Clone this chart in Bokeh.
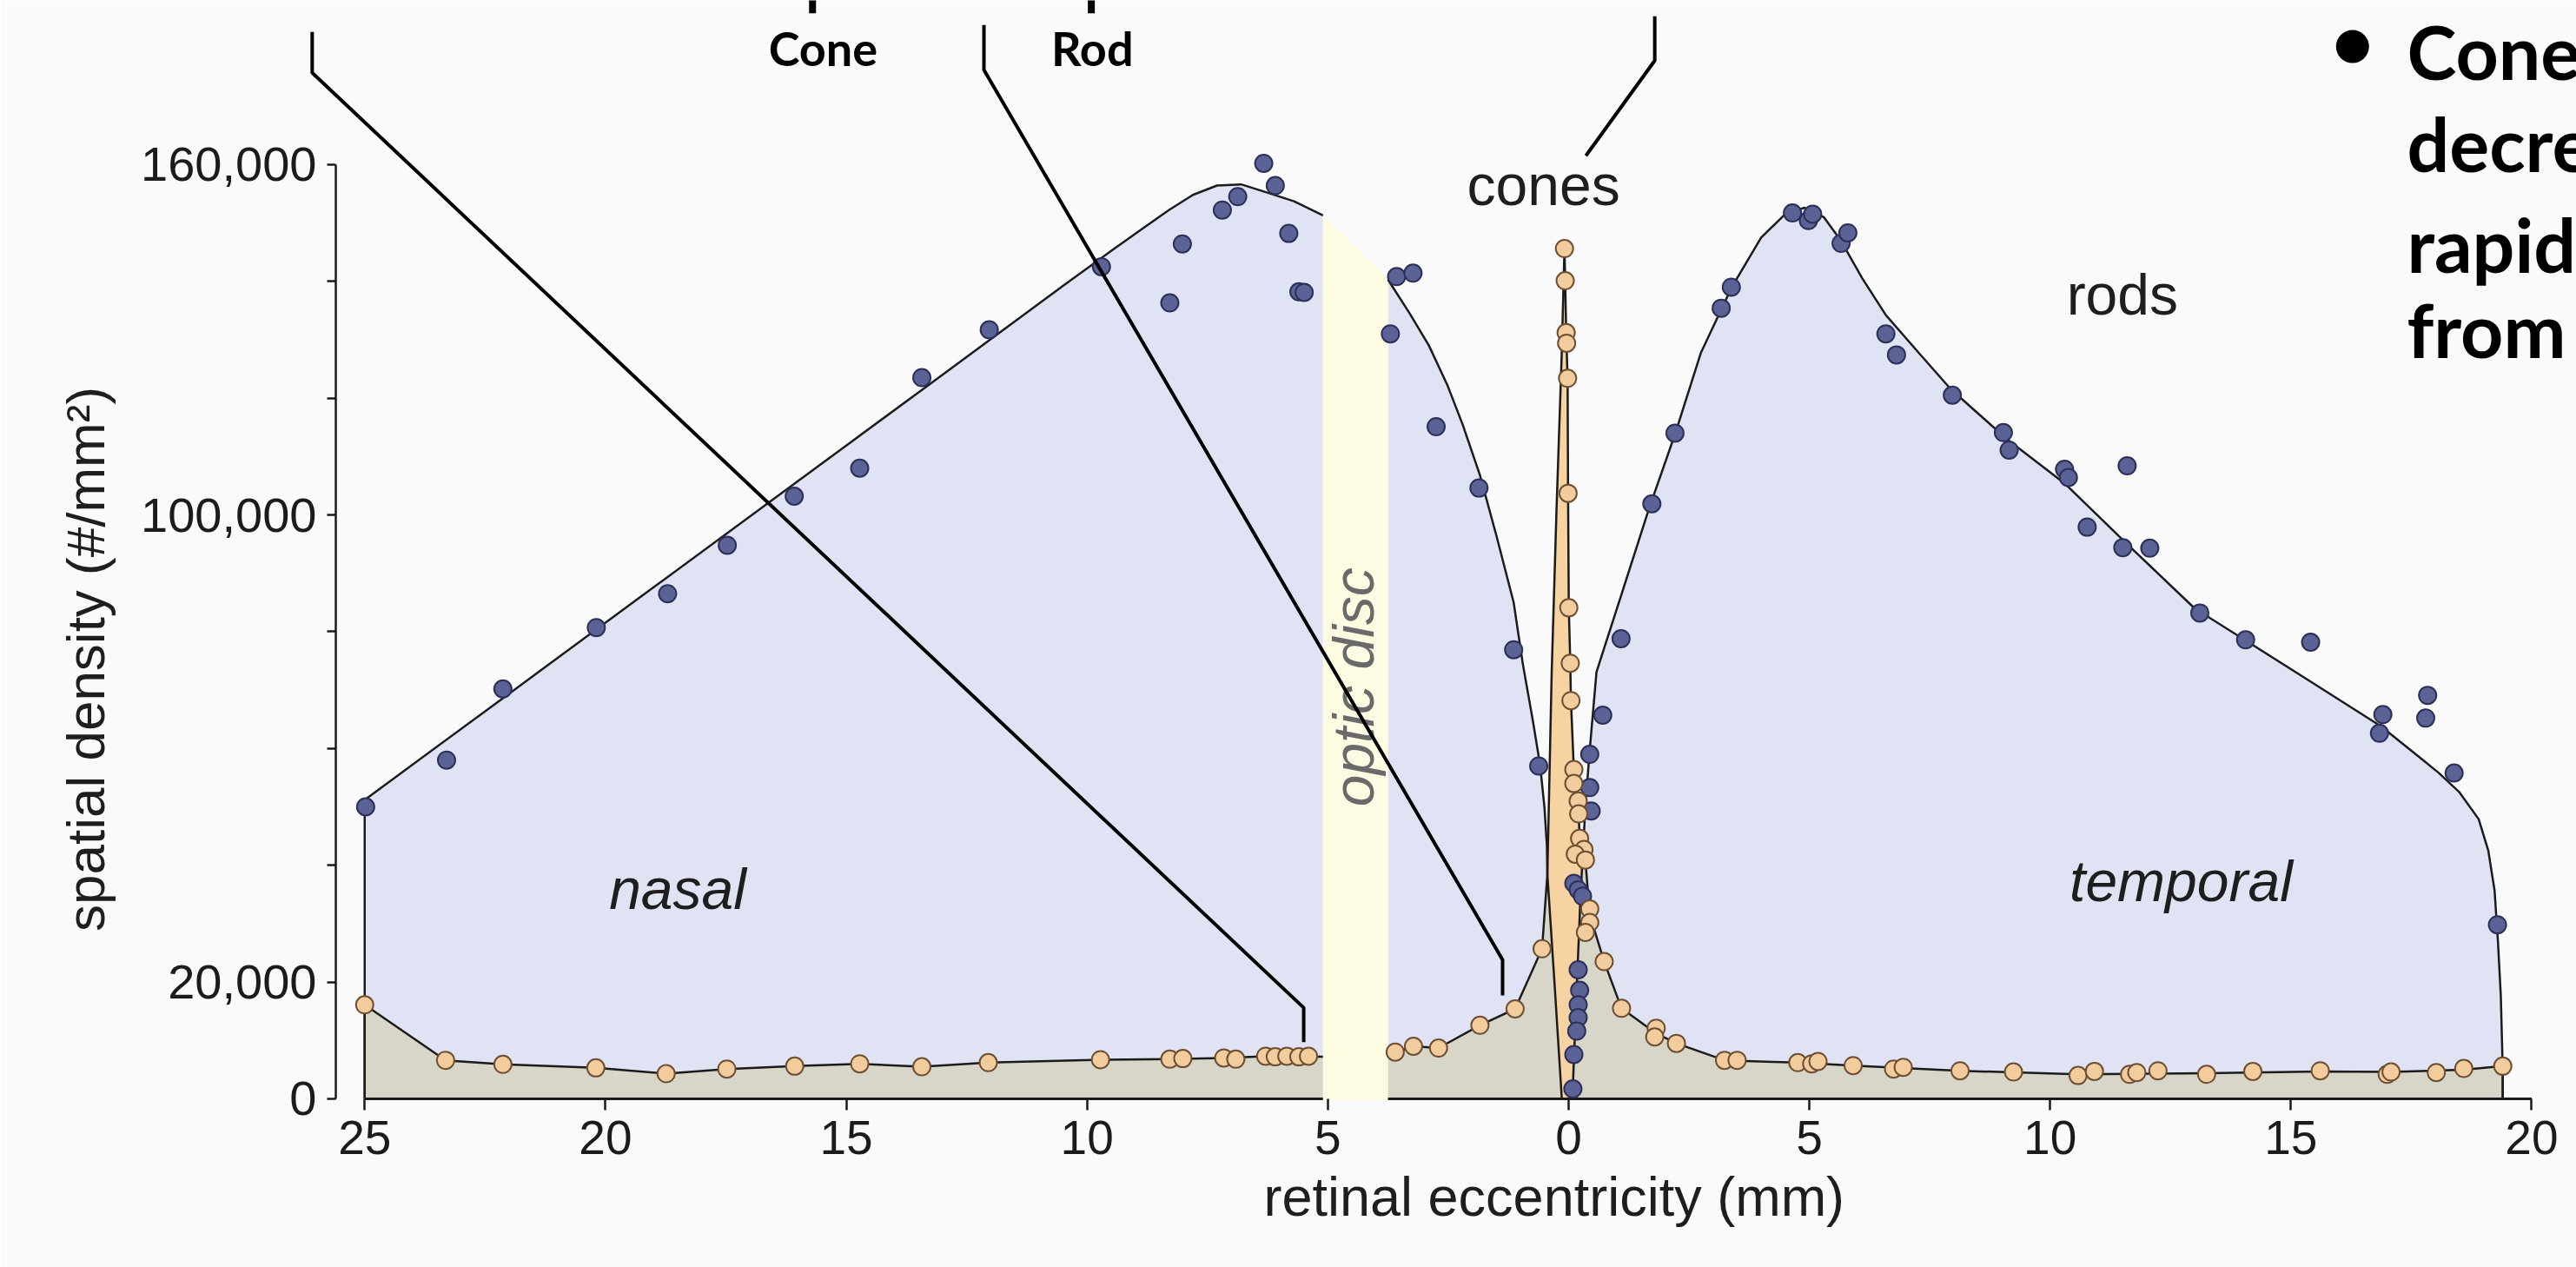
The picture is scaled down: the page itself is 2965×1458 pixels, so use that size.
import math
from bokeh.plotting import figure
from bokeh.models import FixedTicker, Range1d
from bokeh.embed import file_html
from bokeh.resources import INLINE
from bokeh.core.properties import value

# ---------------- data (x: retinal eccentricity in mm, nasal side negative;
#                         y: spatial density in thousands per mm^2) -------------
ROD_X = [-24.98, -23.30, -22.13, -20.19, -18.71, -17.47, -16.08, -14.72, -13.43, -12.03,
         -9.70, -8.28, -8.02, -7.19, -6.87, -6.33, -6.09, -5.81, -5.60, -5.49,
         -3.70, -3.57, -3.23, -2.75, -1.86, -1.14, -0.62,
         0.71, 0.44, 0.44, 0.47, 0.11, 0.20, 0.29, 0.20, 0.23, 0.20, 0.20, 0.17, 0.11, 0.09,
         1.09, 1.73, 2.21, 3.17, 3.38, 4.65, 4.98, 5.07, 5.66, 5.80, 6.59, 6.81, 7.97,
         9.03, 9.15, 10.30, 10.38, 11.60, 10.77, 11.51, 12.07, 13.11, 14.06, 15.41,
         16.91, 16.84, 17.84, 17.80, 18.39, 19.29]
ROD_Y = [50.0, 58.0, 70.2, 80.7, 86.5, 94.8, 103.2, 108.0, 123.5, 131.7,
         142.5, 136.3, 146.4, 152.2, 154.5, 160.2, 156.4, 148.2, 138.2, 138.1,
         131.0, 140.8, 141.4, 115.1, 104.6, 76.9, 57.0,
         65.7, 59.0, 53.3, 49.3, 36.9, 35.8, 34.7, 22.1, 18.6, 16.1, 13.9, 11.6, 7.6, 1.7,
         78.8, 101.9, 114.0, 135.4, 139.0, 151.7, 150.4, 151.5, 146.5, 148.3, 131.0, 127.4, 120.5,
         114.1, 111.1, 107.8, 106.4, 108.4, 97.9, 94.4, 94.3, 83.2, 78.6, 78.2,
         65.8, 62.6, 69.1, 65.2, 55.8, 29.8]

CONE_X = [-25.0, -23.32, -22.13, -20.2, -18.74, -17.48, -16.07, -14.72, -13.43, -12.05,
          -9.72, -8.28, -8.01, -7.16, -6.91, -6.29, -6.09, -5.85, -5.60, -5.40,
          -3.60, -3.22, -2.70, -1.84, -1.11, -0.55,
          -0.085, -0.07, -0.05, -0.04, -0.02, -0.01, 0.005, 0.036, 0.05, 0.11, 0.11, 0.20,
          0.21, 0.23, 0.32, 0.14, 0.35, 0.44, 0.44, 0.35,
          0.74, 1.10, 1.82, 1.79, 2.24, 3.24, 3.50, 4.76, 5.05, 5.18, 5.91, 6.75, 6.95,
          8.13, 9.24, 10.58, 10.92, 11.65, 11.80, 12.24, 13.25, 14.21, 15.61, 17.00,
          17.08, 18.02, 18.59, 19.40]
CONE_Y = [16.1, 6.6, 5.9, 5.3, 4.3, 5.1, 5.6, 6.0, 5.5, 6.2,
          6.7, 6.8, 6.9, 7.0, 6.8, 7.3, 7.2, 7.3, 7.2, 7.3,
          8.0, 9.0, 8.7, 12.6, 15.4, 25.7,
          145.6, 140.1, 131.2, 129.4, 123.4, 103.7, 84.1, 74.6, 68.2, 56.4, 54.0, 51.0,
          48.8, 44.6, 42.7, 41.9, 40.9, 32.5, 30.2, 28.5,
          23.5, 15.5, 12.1, 10.6, 9.5, 6.6, 6.6, 6.2, 6.0, 6.4, 5.7, 5.1, 5.4,
          4.8, 4.6, 4.0, 4.7, 4.2, 4.5, 4.8, 4.2, 4.7, 4.8, 4.2,
          4.6, 4.5, 5.2, 5.6]

# fitted curves as drawn in the figure
ROD_NASAL_CX = [-25.0, -25.0, -22.0, -19.0, -16.0, -13.0, -10.5, -9.5, -8.8, -8.3, -7.8,
                -7.3, -6.8, -6.3, -5.7, -5.1]
ROD_NASAL_CY = [0.0, 51.2, 69.4, 87.6, 105.8, 124.0, 139.2, 145.2, 149.3, 152.2, 154.8,
                156.4, 156.6, 155.3, 153.7, 151.3]
ROD_TEMP_CX = [-3.75, -3.3, -2.9, -2.52, -2.2, -1.84, -1.5, -1.14, -0.95, -0.74, -0.59, -0.50,
               -0.45, -0.44, -0.29, -0.14, 0.08, 0.15, 0.25, 0.35, 0.43, 0.58, 1.1, 1.66, 2.21,
               2.75, 3.39, 4.0, 4.5, 4.9, 5.3, 5.66, 6.1, 6.59, 7.3, 7.94, 9.1, 10.3, 11.6, 13.0,
               14.06, 15.4, 16.87, 18.06, 18.5, 18.9, 19.1, 19.23, 19.3, 19.36, 19.4, 19.4]
ROD_TEMP_CY = [140.3, 134.5, 129.0, 122.3, 115.5, 106.8, 96.5, 85.0, 74.5, 64.7, 57.1, 49.9,
               43.4, 38.5, 19.6, 0.0, 0.0, 15.0, 35.0, 50.0, 58.8, 73.1, 86.4, 100.8, 113.8,
               127.8, 139.0, 147.5, 151.5, 152.6, 151.0, 146.9, 140.5, 134.2, 127.5, 121.5, 113.0,
               105.4, 95.0, 84.0, 78.5, 71.5, 63.8, 55.9, 52.5, 47.9, 42.5, 35.7, 27.0, 17.6, 4.7, 0.0]
CONE_NASAL_CX = [-25.0, -25.0, -23.32, -22.13, -20.2, -18.74, -17.48, -16.07, -14.72, -13.43,
                 -12.05, -9.72, -8.28, -7.16, -6.29, -5.1]
CONE_NASAL_CY = [0.0, 16.1, 6.6, 5.9, 5.3, 4.3, 5.1, 5.6, 6.0, 5.5,
                 6.2, 6.7, 6.8, 7.0, 7.3, 7.2]
CONE_TEMP_CX = [-3.75, -3.60, -3.22, -2.70, -1.84, -1.11, -0.55, -0.44, -0.35, -0.25, -0.14,
                -0.085, -0.07, -0.05, -0.02, -0.01, 0.005, 0.036, 0.05, 0.11, 0.20, 0.23, 0.35,
                0.44, 0.74, 1.10, 1.80, 2.24, 3.24, 4.76, 5.91, 8.13, 10.58, 13.25, 15.61,
                17.08, 18.59, 19.40, 19.40]
CONE_TEMP_CY = [7.6, 8.0, 9.0, 8.7, 12.6, 15.4, 25.7, 38.5, 73.1, 100.9, 128.0,
                145.6, 140.1, 131.2, 123.4, 103.7, 84.1, 74.6, 68.2, 56.4, 51.0, 44.6, 40.9,
                31.5, 23.5, 15.5, 11.3, 9.5, 6.6, 6.2, 5.7, 4.8, 4.2, 4.4, 4.7,
                4.6, 5.0, 5.6, 0.0]
# foveal region where cones are present but rods are not
CONE_ONLY_X = [-0.14, -0.29, -0.44, -0.35, -0.25, -0.14, -0.085, -0.07, -0.05, -0.02, -0.01,
               0.005, 0.036, 0.05, 0.11, 0.20, 0.23, 0.30, 0.25, 0.15, 0.08]
CONE_ONLY_Y = [0.0, 19.6, 38.5, 73.1, 100.9, 128.0, 145.6, 140.1, 131.2, 123.4, 103.7,
               84.1, 74.6, 68.2, 56.4, 51.0, 44.6, 42.5, 35.0, 15.0, 0.0]
# optic disc (blind spot)
DISC_X = [-5.1, -3.75]
DISC_TOP = [151.3, 140.3]

X_TICKS = [-25, -20, -15, -10, -5, 0, 5, 10, 15, 20]
X_TICK_LABELS = ["25", "20", "15", "10", "5", "0", "5", "10", "15", "20"]
Y_TICKS = [0, 20, 40, 60, 80, 100, 120, 140, 160]
Y_TICK_LABELS = ["0", "20,000", "", "", "", "100,000", "", "", "160,000"]

X_TITLE = "retinal eccentricity (mm)"
Y_TITLE = "spatial density (#/mm²)"

# ---------------- styling / layout ----------------
W, H = 2965, 1458
BG = "#fafafa"
ROD_FILL = "#dfe3f4"
BOTH_FILL = "#d7d6c8"
CONE_ONLY_FILL = "#f6d3a0"
DISC_FILL = "#fdfbe1"
ROD_DOT, ROD_EDGE = "#5a6296", "#2c3058"
CONE_DOT, CONE_EDGE = "#f2cc9d", "#6e4f33"
INK = "#1b1b1b"
FONT = "Liberation Sans"
SLIDE_FONT = "Lato"

p = figure(width=W, height=H, output_backend="svg", toolbar_location=None, title=None,
           x_range=Range1d(-25.6, 20.93), y_range=Range1d(-0.3, 188.1),
           min_border_left=386, min_border_right=0, min_border_top=0, min_border_bottom=192)
p.background_fill_color = BG
p.border_fill_color = BG
p.outline_line_color = None
p.grid.visible = False

# axes
xa = p.xaxis[0]
xa.ticker = FixedTicker(ticks=X_TICKS)
xa.major_label_overrides = {t: l for t, l in zip(X_TICKS, X_TICK_LABELS)}
xa.bounds = (X_TICKS[0], X_TICKS[-1])
xa.axis_line_color = None
xa.major_tick_in = 2
xa.major_tick_out = 11
xa.major_tick_line_width = 2.5
xa.major_tick_line_color = INK
xa.minor_tick_line_color = None
xa.major_label_standoff = 12
xa.major_label_text_font = FONT
xa.major_label_text_font_size = "55px"
xa.major_label_text_color = INK

ya = p.yaxis[0]
ya.ticker = FixedTicker(ticks=Y_TICKS)
ya.major_label_overrides = {t: l for t, l in zip(Y_TICKS, Y_TICK_LABELS)}
ya.bounds = (Y_TICKS[0], Y_TICKS[-1])
ya.axis_line_color = INK
ya.axis_line_width = 2.5
ya.major_tick_in = 0
ya.major_tick_out = 10
ya.major_tick_line_width = 2.5
ya.major_tick_line_color = INK
ya.minor_tick_line_color = None
ya.major_label_standoff = 12
ya.major_label_text_font = FONT
ya.major_label_text_font_size = "56px"
ya.major_label_text_color = INK

# fills
def closed(xs, ys):
    return xs + [xs[-1], xs[0]], ys + [0.0, 0.0]

for cx, cy in ((ROD_NASAL_CX, ROD_NASAL_CY), (ROD_TEMP_CX, ROD_TEMP_CY)):
    px, py = closed(cx, cy)
    p.patch(px, py, fill_color=ROD_FILL, line_color=None)
for cx, cy in ((CONE_NASAL_CX, CONE_NASAL_CY), (CONE_TEMP_CX, CONE_TEMP_CY)):
    px, py = closed(cx, cy)
    p.patch(px, py, fill_color=BOTH_FILL, line_color=None)
p.patch(CONE_ONLY_X, CONE_ONLY_Y, fill_color=CONE_ONLY_FILL, line_color=None)

# baseline (x axis line)
p.segment(x0=[X_TICKS[0]], y0=[0], x1=[X_TICKS[-1]], y1=[0], line_color=INK, line_width=3)

# optic disc band
p.patch([DISC_X[0], DISC_X[1], DISC_X[1], DISC_X[0]],
        [DISC_TOP[0], DISC_TOP[1], -0.3, -0.3], fill_color=DISC_FILL, line_color=None)

# curves
for cx, cy in ((ROD_NASAL_CX, ROD_NASAL_CY), (ROD_TEMP_CX, ROD_TEMP_CY),
               (CONE_NASAL_CX, CONE_NASAL_CY), (CONE_TEMP_CX, CONE_TEMP_CY)):
    p.line(cx, cy, line_color=INK, line_width=2.5, line_join="round")

# data points
p.scatter(ROD_X, ROD_Y, size=20, fill_color=ROD_DOT, line_color=ROD_EDGE, line_width=2)
p.scatter(CONE_X, CONE_Y, size=20, fill_color=CONE_DOT, line_color=CONE_EDGE, line_width=2)

# texts
def txt(x, y, s, size="66px", style="normal", color="#1e1e1e", angle=0.0,
        align="center", baseline="alphabetic", font=FONT, level="overlay"):
    p.text(x=[x], y=[y], text=[s], text_font=value(font), text_font_size=value(size),
           text_font_style=style, text_color=color, angle=angle,
           text_align=align, text_baseline=baseline, level=level)

txt(-0.52, 156.5, "cones")
txt(11.5, 137.7, "rods")
txt(-18.5, 35.9, "nasal", style="italic")
txt(12.72, 37.3, "temporal", style="italic")
txt(-4.47, 70.5, "optic disc", style="italic", color="#6a6a6a", angle=math.pi / 2,
    baseline="middle")

# axis titles (drawn outside the frame)
txt(-30.8, 75.3, Y_TITLE, size="62px", angle=math.pi / 2, baseline="middle")
txt(-0.3, -16.8, X_TITLE, size="63px", baseline="middle")

# slide overlay: pointer lines and labels
POINTERS = [
    ([-26.09, -26.09, -5.50, -5.50], [182.7, 175.7, 15.6, 9.7]),
    ([-12.14, -12.14, -1.37, -1.37], [183.9, 176.2, 23.8, 17.7]),
    ([1.79, 1.79, 0.36], [185.4, 177.8, 161.5]),
]
for xs, ys in POINTERS:
    p.line(xs, ys, line_color="#000000", line_width=4, level="overlay")
p.segment(x0=[-15.70, -9.91], y0=[188.1, 188.1], x1=[-15.70, -9.91], y1=[185.9, 185.9],
          line_color="#000000", line_width=8, level="overlay")

txt(-15.48, 179.9, "Cone", size="54px", style="bold", color="#000000", font=SLIDE_FONT)
txt(-9.89, 179.9, "Rod", size="54px", style="bold", color="#000000", font=SLIDE_FONT)

p.scatter([16.28], [180.2], size=38, fill_color="#000000", line_color=None, level="overlay")
for yy, s in zip([179.5, 163.7, 146.5, 131.8], ["Cones", "decrease", "rapidly", "from"]):
    txt(17.41, yy, s, size="86px", style="bold", color="#000000", align="left", font=SLIDE_FONT)

open("out.html", "w").write(file_html(p, INLINE))
